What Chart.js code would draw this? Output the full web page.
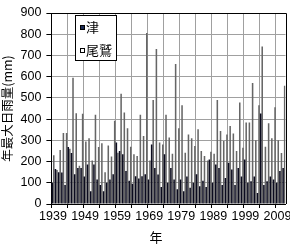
<!DOCTYPE html>
<html>
<head>
<meta charset="utf-8">
<script src="https://cdn.jsdelivr.net/npm/chart.js@4.4.0/dist/chart.umd.min.js"></script>
<style>
html, body { margin: 0; padding: 0; background: #fff; }
#wrap { width: 290px; height: 249px; }
</style>
</head>
<body>
<div id="wrap"><canvas id="rainChart" width="290" height="249"></canvas></div>
<script>
// years on the category axis
const years = [
    '1939','1940','1941','1942','1943','1944','1945','1946','1947','1948',
    '1949','1950','1951','1952','1953','1954','1955','1956','1957','1958',
    '1959','1960','1961','1962','1963','1964','1965','1966','1967','1968',
    '1969','1970','1971','1972','1973','1974','1975','1976','1977','1978',
    '1979','1980','1981','1982','1983','1984','1985','1986','1987','1988',
    '1989','1990','1991','1992','1993','1994','1995','1996','1997','1998',
    '1999','2000','2001','2002','2003','2004','2005','2006','2007','2008',
    '2009','2010','2011'
];

// annual max daily rainfall (mm)
const tsu = [
    100, 165, 150, 148,  90, 268, 240, 140, 170, 170,
    130, 186,  60, 186, 115,  90,  60, 100, 115, 140,
    290, 250, 234, 155, 110,  95, 131, 120, 131, 140,
    115, 280, 170, 139,  80, 234, 100, 170, 115,  70,
    115,  60, 130,  76, 100, 140,  84, 110,  80, 210,
    100, 186, 170,  90, 123, 194, 163,  90, 170, 130,
    210, 100, 107, 130,  52, 427,  90, 107, 130, 115,
    100, 155, 170
];
const owase = [
    230, 160, 255, 335, 335, 260, 595, 428, 180, 425,
    294, 310, 205, 420, 268, 286, 150, 276, 224, 392,
    242, 520, 431, 357, 270, 234, 226, 420, 320, 806,
    205, 490, 730, 290, 280, 420, 313, 237, 660, 357,
    465, 242, 328, 310, 273, 352, 250, 226, 205, 246,
    237, 490, 344, 297, 328, 368, 332, 250, 478, 265,
    384, 384, 570, 300, 465, 742, 270, 380, 310, 456,
    300, 240, 557
];

// labelled years on the x axis
const xTickLabels = ['1939','1949','1959','1969','1979','1989','1999','2009'];

const seriesNames = ['津', '尾鷲'];
const yTitle = '年最大日雨量(mm)';
const xTitle = '年';

const tickFont = { family: "'Liberation Sans', 'Noto Sans CJK JP', sans-serif", size: 12.5 };
const cjkFont = "13px 'Noto Sans CJK JP', sans-serif";

// legend box, axis title and frame drawn on top
const overlayPlugin = {
    id: 'overlay',
    afterDraw(chart) {
        const ctx = chart.ctx;
        const area = chart.chartArea;
        ctx.save();

        // frame top + right
        ctx.strokeStyle = '#000';
        ctx.lineWidth = 1;
        ctx.beginPath();
        ctx.moveTo(area.left, Math.round(area.top) + 0.5);
        ctx.lineTo(Math.round(area.right) + 0.5, Math.round(area.top) + 0.5);
        ctx.lineTo(Math.round(area.right) + 0.5, area.bottom);
        ctx.stroke();

        // legend
        const bx = 75, by = 15, bw = 41, bh = 45;
        ctx.fillStyle = '#fff';
        ctx.fillRect(bx, by, bw, bh);
        ctx.strokeRect(bx + 0.5, by + 0.5, bw, bh);
        ctx.font = cjkFont;
        ctx.textBaseline = 'middle';
        chart.data.datasets.forEach((ds, i) => {
            const cy = 27 + i * 23;
            ctx.fillStyle = ds.legendFill;
            ctx.fillRect(80, cy - 2, 5, 5);
            ctx.strokeStyle = '#000';
            ctx.strokeRect(80.5, cy - 1.5, 4, 4);
            ctx.fillStyle = '#000';
            ctx.fillText(ds.label, 86, cy);
        });

        // x axis title
        ctx.textAlign = 'center';
        ctx.fillText(xTitle, 156, 237);
        ctx.restore();
    }
};

const chart = new Chart(document.getElementById('rainChart'), {
    type: 'bar',
    data: {
        labels: years,
        datasets: [
            {
                label: seriesNames[0],
                data: tsu,
                backgroundColor: '#0b0b1e',
                borderWidth: 0,
                legendFill: '#1b2a55',
                categoryPercentage: 0.96,
                barPercentage: 1
            },
            {
                label: seriesNames[1],
                data: owase,
                backgroundColor: '#666666',
                borderWidth: 0,
                legendFill: '#fff',
                categoryPercentage: 0.96,
                barPercentage: 1
            }
        ]
    },
    options: {
        responsive: false,
        devicePixelRatio: 1,
        animation: false,
        layout: { padding: { left: 0, top: 13, right: 4.5, bottom: 0 } },
        plugins: {
            legend: { display: false },
            tooltip: { enabled: false }
        },
        scales: {
            x: {
                grid: {
                    offset: true,
                    color: c => (c.index % 5 === 0 ? '#a0a0a0' : 'rgba(0,0,0,0)'),
                    tickColor: c => (c.index % 5 === 0 ? '#000' : 'rgba(0,0,0,0)'),
                    tickLength: 4
                },
                border: { display: true, color: '#000' },
                ticks: {
                    autoSkip: false,
                    maxRotation: 0,
                    padding: 1,
                    color: '#000',
                    font: tickFont,
                    callback: function(value) {
                        const lab = this.getLabelForValue(value);
                        return xTickLabels.includes(lab) ? lab : '';
                    }
                },
                afterFit: scale => { scale.height = 45; }
            },
            y: {
                min: 0,
                max: 900,
                ticks: {
                    stepSize: 100,
                    padding: 5,
                    color: '#000',
                    font: tickFont
                },
                grid: {
                    color: '#a0a0a0',
                    tickColor: '#000',
                    tickLength: 5
                },
                border: { display: true, color: '#000' },
                title: {
                    display: true,
                    text: yTitle,
                    color: '#000',
                    font: { family: "'Noto Sans CJK JP', sans-serif", size: 12.5 },
                    padding: { top: 0, bottom: 0 }
                },
                afterFit: scale => { scale.width = 51.4; }
            }
        }
    },
    plugins: [overlayPlugin]
});
</script>
</body>
</html>
